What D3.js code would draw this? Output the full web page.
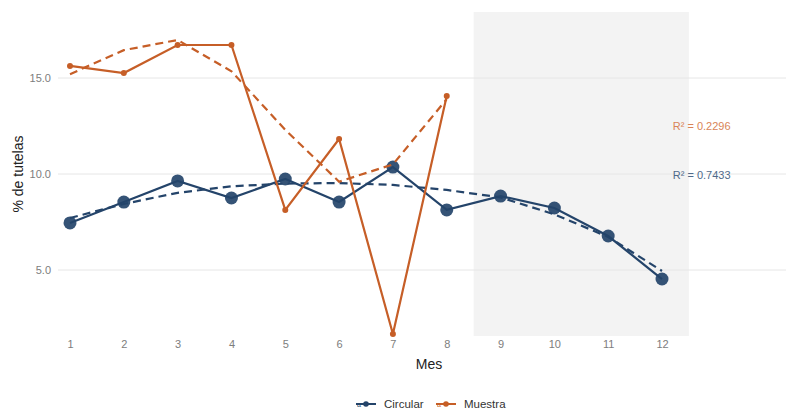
<!DOCTYPE html>
<html>
<head>
<meta charset="utf-8">
<script src="https://cdn.jsdelivr.net/npm/d3@7"></script>
<style>
body { margin: 0; background: #fff; }
text { font-family: "Liberation Sans", Arial, sans-serif; }
</style>
</head>
<body>
<svg></svg>
<script>
// datos
var meses = [1, 2, 3, 4, 5, 6, 7, 8, 9, 10, 11, 12];
var circular = [7.45, 8.54, 9.64, 8.75, 9.74, 8.54, 10.36, 8.13, 8.85, 8.23, 6.77, 4.53];
var circularTrend = [7.71, 8.44, 9.02, 9.36, 9.5, 9.53, 9.43, 9.17, 8.78, 7.9, 6.72, 4.95];
var muestraMeses = [1, 2, 3, 4, 5, 6, 7, 8];
var muestra = [15.63, 15.26, 16.72, 16.72, 8.13, 11.82, 1.67, 14.06];
var muestraTrend = [15.2, 16.45, 16.98, 15.35, 12.3, 9.6, 10.5, 13.9];
var yTicks = [5, 10, 15];
var r2Labels = ["R\u00b2 = 0.2296", "R\u00b2 = 0.7433"];
var r2Y = [12.5, 9.95];

var screen = {width: 790, height: 409};
var colors = {circular: "#24446a", muestra: "#c65e27"};

var svg = d3.select("svg")
    .attr("width", screen.width)
    .attr("height", screen.height);

var panel = {left: 58, right: 786, top: 12, bottom: 336};

var xScale = d3.scaleLinear()
    .domain([1, 12])
    .range([70, 662]);

var yScale = d3.scaleLinear()
    .domain([5, 15])
    .range([270, 78]);

// zona sombreada (meses 9 a 12)
svg.append("rect")
    .attr("x", xScale(8.5))
    .attr("y", panel.top)
    .attr("width", xScale(12.5) - xScale(8.5))
    .attr("height", panel.bottom - panel.top)
    .attr("fill", "#f3f3f3");

// lineas de grilla
svg.append("g")
    .selectAll("line")
    .data(yTicks)
    .enter()
    .append("line")
    .attr("x1", panel.left)
    .attr("x2", panel.right)
    .attr("y1", function(d){return yScale(d)})
    .attr("y2", function(d){return yScale(d)})
    .attr("stroke", "#e6e6e6")
    .attr("stroke-width", 1);

// ejes
var yAxis = d3.axisLeft(yScale)
    .tickValues(yTicks)
    .tickFormat(d3.format(".1f"))
    .tickSize(0)
    .tickPadding(6);

svg.append("g")
    .attr("id", "yAxis")
    .attr("transform", "translate(" + (panel.left - 1) + ",0)")
    .call(yAxis)
    .call(function(g){ g.select(".domain").remove(); });

var xAxis = d3.axisBottom(xScale)
    .tickValues(meses)
    .tickFormat(d3.format("d"))
    .tickSize(0)
    .tickPadding(4);

svg.append("g")
    .attr("id", "xAxis")
    .attr("transform", "translate(0," + panel.bottom + ")")
    .call(xAxis)
    .call(function(g){ g.select(".domain").remove(); });

svg.selectAll(".tick text")
    .attr("fill", null)
    .style("fill", "#7d7d7d")
    .style("font-size", "11px")
    .style("font-family", "'Liberation Sans', Arial, sans-serif");

svg.append("text")
    .attr("x", 429)
    .attr("y", 369)
    .attr("text-anchor", "middle")
    .attr("fill", "#222")
    .style("font-size", "14px")
    .text("Mes");

svg.append("text")
    .attr("transform", "translate(23," + ((panel.top + panel.bottom) / 2) + ") rotate(-90)")
    .attr("text-anchor", "middle")
    .attr("fill", "#222")
    .style("font-size", "14px")
    .text("% de tutelas");

var lineGenerator = d3.line()
    .x(function(d){return xScale(d[0])})
    .y(function(d){return yScale(d[1])});

var drawSerie = function(xs, vals, trend, color, r)
{
    var g = svg.append("g");
    g.append("path")
        .datum(d3.zip(xs, trend))
        .attr("d", lineGenerator)
        .attr("fill", "none")
        .attr("stroke", color)
        .attr("stroke-width", 2.2)
        .attr("stroke-dasharray", "8,5");
    g.append("path")
        .datum(d3.zip(xs, vals))
        .attr("d", lineGenerator)
        .attr("fill", "none")
        .attr("stroke", color)
        .attr("stroke-width", 2.2);
    g.selectAll("circle")
        .data(d3.zip(xs, vals))
        .enter()
        .append("circle")
        .attr("cx", function(d){return xScale(d[0])})
        .attr("cy", function(d){return yScale(d[1])})
        .attr("r", r)
        .attr("fill", color)
        .attr("opacity", r > 4 ? 0.92 : 1);
}

drawSerie(meses, circular, circularTrend, colors.circular, 6.5);
drawSerie(muestraMeses, muestra, muestraTrend, colors.muestra, 3);

// etiquetas R2
svg.selectAll(".r2")
    .data(r2Labels)
    .enter()
    .append("text")
    .attr("class", "r2")
    .attr("x", xScale(12.2))
    .attr("y", function(d, i){return yScale(r2Y[i]) + 4})
    .attr("fill", function(d, i){return i == 0 ? "#d98457" : "#4f6a8a"})
    .style("font-size", "11px")
    .text(function(d){return d});

// leyenda
var legendItems = [
    {name: "Circular", color: colors.circular, x: 356},
    {name: "Muestra", color: colors.muestra, x: 436}
];

var legend = svg.append("g").attr("id", "legend");
legendItems.forEach(function(item)
{
    var cy = 404;
    legend.append("line")
        .attr("x1", item.x)
        .attr("x2", item.x + 20)
        .attr("y1", cy)
        .attr("y2", cy)
        .attr("stroke", item.color)
        .attr("stroke-width", 2);
    legend.append("circle")
        .attr("cx", item.x + 10)
        .attr("cy", cy)
        .attr("r", 2.8)
        .attr("fill", item.color);
    legend.append("text")
        .attr("x", item.x + 1)
        .attr("y", cy + 3)
        .attr("fill", item.color)
        .style("font-size", "7px")
        .text("a");
    legend.append("text")
        .attr("x", item.x + 28)
        .attr("y", cy + 4)
        .attr("fill", "#333")
        .style("font-size", "11.5px")
        .text(item.name);
});
</script>
</body>
</html>
